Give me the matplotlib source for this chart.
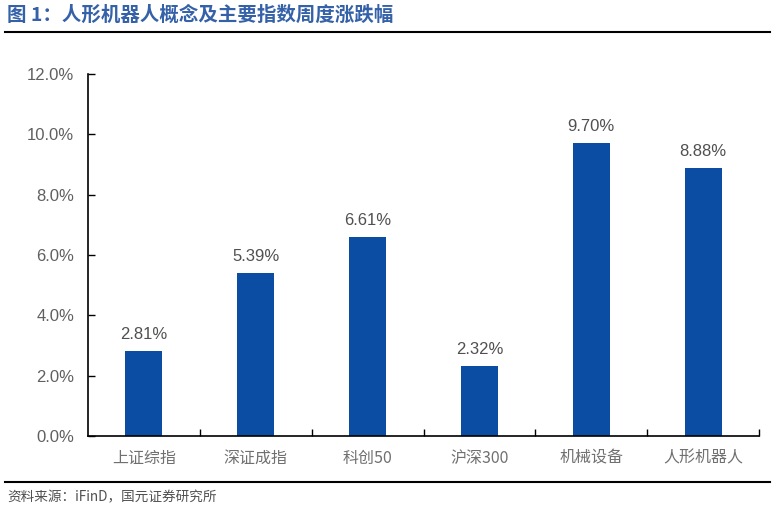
import matplotlib
matplotlib.use("Agg")
import matplotlib.pyplot as plt
from matplotlib.ticker import FuncFormatter, FixedLocator
from matplotlib.lines import Line2D

plt.rcParams['font.family'] = ['Liberation Sans', 'Noto Sans CJK SC', 'DejaVu Sans']

categories = ['上证综指', '深证成指', '科创50', '沪深300', '机械设备', '人形机器人']
changes = [2.81, 5.39, 6.61, 2.32, 9.70, 8.88]
yticks = [0, 2, 4, 6, 8, 10, 12]

bar_color = '#0B4DA2'

fig = plt.figure(figsize=(7.76, 5.11), dpi=100)
ax = fig.add_axes([88 / 776, 75 / 511, 671 / 776, 362 / 511])

x = list(range(len(categories)))
ax.bar(x, changes, width=0.33, color=bar_color, zorder=2)
for xi, v in zip(x, changes):
    ax.text(xi, v + 0.3, f'{v:.2f}%', ha='center', va='bottom',
            fontsize=12, color='#505050')

ax.set_xlim(-0.5, len(categories) - 0.5)
ax.set_ylim(0, 12)
ax.set_yticks(yticks)
ax.yaxis.set_major_formatter(FuncFormatter(lambda v, p: f'{v:.1f}%'))
ax.set_xticks(x)
ax.set_xticklabels(categories)
ax.xaxis.set_minor_locator(FixedLocator([i + 0.5 for i in range(len(categories))]))

ax.tick_params(axis='y', direction='in', length=5, width=1, labelsize=12,
               labelcolor='#606060', pad=10)
ax.tick_params(axis='x', which='major', length=0, labelsize=11.5,
               labelcolor='#707070', pad=10)
ax.tick_params(axis='x', which='minor', direction='in', length=5, width=1)
for lab in ax.get_xticklabels():
    lab.set_family(['Noto Sans CJK SC', 'DejaVu Sans'])
    lab.set_fontweight('light')

for s in ['top', 'right']:
    ax.spines[s].set_visible(False)
for s in ['left', 'bottom']:
    ax.spines[s].set_linewidth(1.2)
    ax.spines[s].set_color('black')

# title and source
fig.text(7 / 776, 1 - 15 / 511, '图 1：人形机器人概念及主要指数周度涨跌幅',
         fontsize=14, fontweight='bold', color='#3461A8', va='center',
         family=['Noto Sans CJK SC', 'DejaVu Sans'])
fig.add_artist(Line2D([5 / 776, 770 / 776], [1 - 32 / 511, 1 - 32 / 511],
                      color='black', lw=1.5, transform=fig.transFigure))
fig.add_artist(Line2D([5 / 776, 770 / 776], [1 - 482 / 511, 1 - 482 / 511],
                      color='black', lw=1.5, transform=fig.transFigure))
fig.text(7 / 776, 1 - 497 / 511, '资料来源：iFinD，国元证券研究所',
         fontsize=9.8, color='#505050', va='center', fontweight='light',
         family=['Noto Sans CJK SC', 'DejaVu Sans'])

fig.savefig('out.png', dpi=100)
